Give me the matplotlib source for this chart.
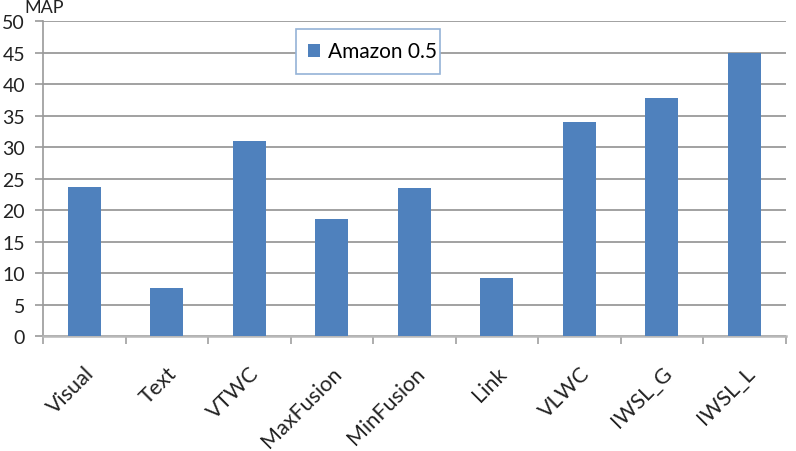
import numpy as np
import matplotlib
matplotlib.use('Agg')
import matplotlib.pyplot as plt
from matplotlib.patches import Rectangle

methods = ['Visual', 'Text', 'VTWC', 'MaxFusion', 'MinFusion', 'Link', 'VLWC', 'IWSL_G', 'IWSL_L']
map_values = [23.7, 7.6, 31.0, 18.5, 23.5, 9.2, 33.9, 37.8, 45.0]
series_name = 'Amazon 0.5'
y_ticks = [0, 5, 10, 15, 20, 25, 30, 35, 40, 45, 50]

plt.rcParams['font.family'] = ['Lato', 'DejaVu Sans']

fig = plt.figure(figsize=(7.96, 4.52), dpi=100)
ax = fig.add_axes([0.054, 0.2544, 0.933, 0.6969])

x = np.arange(len(methods))
bars = ax.bar(x, map_values, width=0.4, color='#4F81BD', label=series_name, zorder=3)

ax.set_xlim(-0.5, len(methods) - 0.5)
ax.set_ylim(0, 50)
ax.set_yticks(y_ticks)
ax.yaxis.grid(True, color='#9a9a9a', linewidth=1.3, zorder=0)
ax.set_axisbelow(True)

# category ticks sit between the bars, like Excel
ax.set_xticks(np.arange(len(methods) + 1) - 0.5, minor=False)
ax.set_xticklabels([])
ax.set_xticks(x, minor=True)
ax.set_xticklabels(methods, minor=True, rotation=45, ha='right',
                   rotation_mode='anchor', fontsize=15.5, color='#222222')
ax.tick_params(axis='x', which='minor', length=0, pad=19)
ax.tick_params(axis='x', which='major', length=6, color='#a0a0a0', width=1.2)
ax.tick_params(axis='y', length=6, color='#9a9a9a', width=1.2, labelsize=14,
               labelcolor='#222222', pad=7)

for side in ['top', 'right']:
    ax.spines[side].set_visible(False)
ax.spines['left'].set_color('#9a9a9a')
ax.spines['left'].set_linewidth(1.2)
ax.spines['bottom'].set_color('#b8b8b8')
ax.spines['bottom'].set_linewidth(1.8)

fig.text(0.03, 1.0, 'MAP', fontsize=13, va='top', ha='left', color='#222222')

# legend box drawn by hand: Excel's padding is uneven
box = Rectangle((0.3719, 0.8341), 0.1809, 0.0996, transform=fig.transFigure,
                facecolor='white', edgecolor='#95B3D7', linewidth=1.2,
                zorder=4.5, clip_on=False)
ax.add_patch(box)
leg = ax.legend(loc='center left', bbox_to_anchor=(308 / 796, 1 - 52.5 / 452),
                bbox_transform=fig.transFigure, frameon=False, fontsize=15,
                handlelength=0.58, handleheight=0.58, handletextpad=0.38,
                borderpad=0, borderaxespad=0)
leg.set_zorder(6)

fig.savefig('out.png', dpi=100)
